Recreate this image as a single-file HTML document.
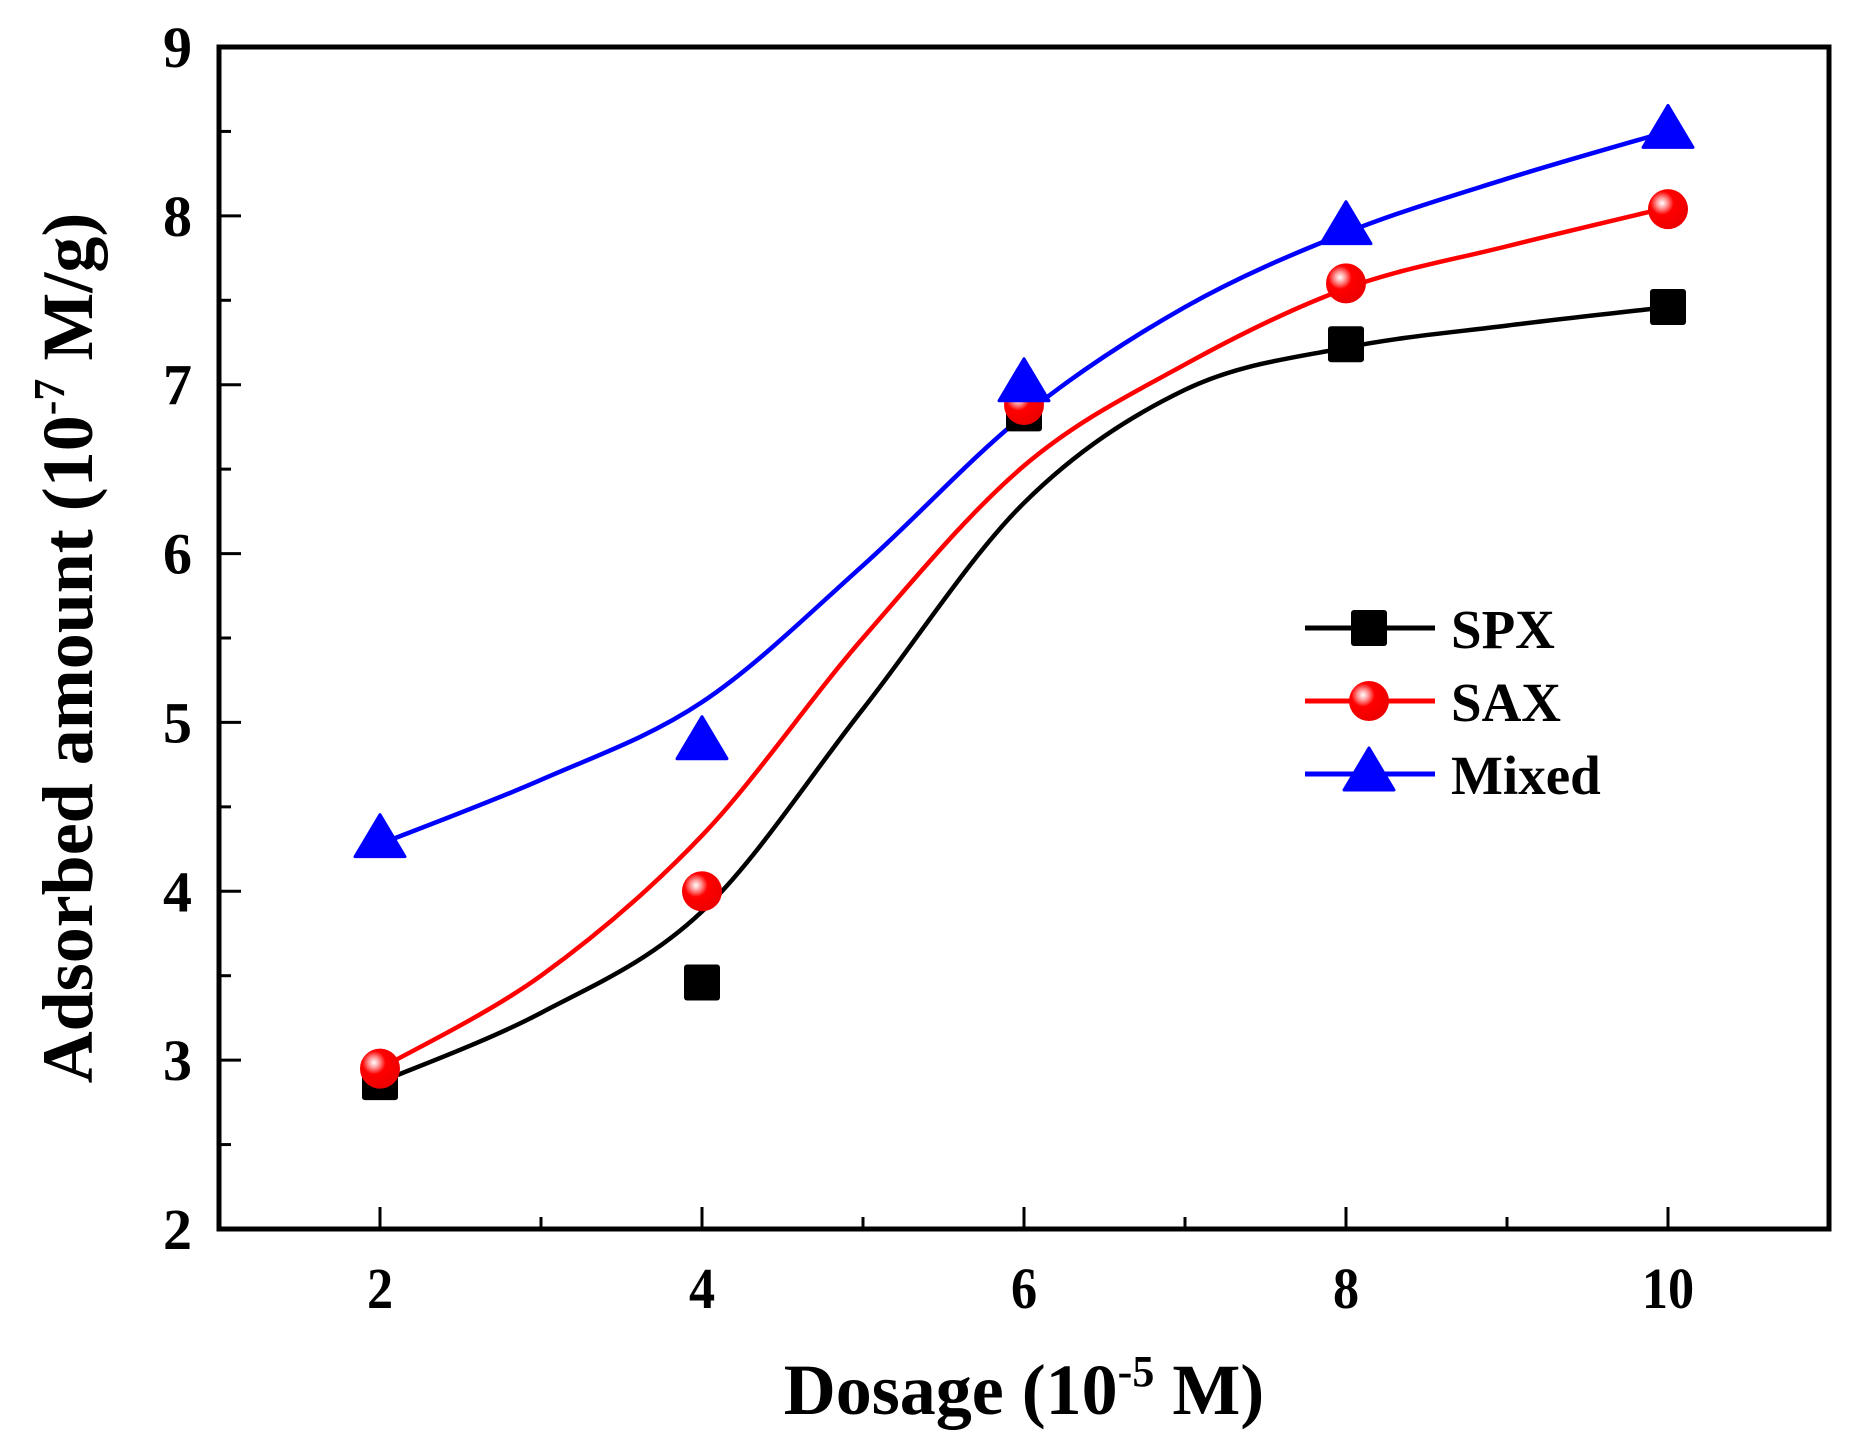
<!DOCTYPE html>
<html><head><meta charset="utf-8"><style>
html,body{margin:0;padding:0;background:#fff;}
svg{display:block;font-family:"Liberation Serif",serif;font-weight:bold;}
</style></head><body>
<svg id="chart" width="1853" height="1437" viewBox="0 0 1853 1437" xmlns="http://www.w3.org/2000/svg">
<g id="plot"></g>
</svg>
<script>
const categories = [2, 4, 6, 8, 10];
const spxValues = [2.87, 3.46, 6.83, 7.24, 7.46];
const saxValues = [2.95, 4.0, 6.88, 7.6, 8.04];
const mixedValues = [4.3, 4.88, 7.0, 7.93, 8.5];
const fitX = [2, 3, 4, 5, 6, 7, 8, 9, 10];
const spxFit = [2.87, 3.28, 3.88, 5.08, 6.3, 6.97, 7.22, 7.35, 7.46];
const saxFit = [2.95, 3.5, 4.33, 5.5, 6.52, 7.12, 7.57, 7.82, 8.05];
const mixedFit = [4.28, 4.66, 5.12, 5.93, 6.82, 7.46, 7.9, 8.22, 8.5];
const xTicks = [2, 4, 6, 8, 10];
const xMinor = [3, 5, 7, 9];
const yTicks = [2, 3, 4, 5, 6, 7, 8, 9];
const yMinor = [2.5, 3.5, 4.5, 5.5, 6.5, 7.5, 8.5];

const L = 219, R = 1829, T = 47, B = 1229;
const xMin = 1, xMax = 11, yMin = 2, yMax = 9;
function sx(v){ return L + (v - xMin) / (xMax - xMin) * (R - L); }
function sy(v){ return B - (v - yMin) / (yMax - yMin) * (B - T); }

const NS = "http://www.w3.org/2000/svg";
const g = document.getElementById('plot');
function mk(tag, attrs, parent){
  const e = document.createElementNS(NS, tag);
  for (const k in attrs) e.setAttribute(k, attrs[k]);
  (parent || g).appendChild(e);
  return e;
}

let fr = mk('rect', {x:L, y:T, width:R-L, height:B-T, fill:'none', stroke:'#000', 'stroke-width':5});



xTicks.forEach(v => {
  let t = mk('line', {x1:sx(v), x2:sx(v), y1:B, y2:B-22, stroke:'#000', 'stroke-width':3});
  
  
  let lb = mk('text', {x:sx(v), y:1308, 'text-anchor':'middle', 'font-size':58, transform:'translate('+sx(v)+',0) scale(0.9,1) translate('+(-sx(v))+',0)'});
  lb.textContent = v;
  
  
});
xMinor.forEach(v => {
  let t = mk('line', {x1:sx(v), x2:sx(v), y1:B, y2:B-12, stroke:'#000', 'stroke-width':3});
  
  
});
yTicks.forEach(v => {
  let t = mk('line', {x1:L, x2:L+22, y1:sy(v), y2:sy(v), stroke:'#000', 'stroke-width':3});
  
  
  let lb = mk('text', {x:192, y:sy(v)+20, 'text-anchor':'end', 'font-size':58});
  lb.textContent = v;
  
  
});
yMinor.forEach(v => {
  let t = mk('line', {x1:L, x2:L+12, y1:sy(v), y2:sy(v), stroke:'#000', 'stroke-width':3});
  
  
});

let xt = mk('text', {x:1024, y:1414, 'text-anchor':'middle', 'font-size':72});
xt.innerHTML = 'Dosage (10<tspan dy="-28" font-size="44">-5</tspan><tspan dy="28"> M)</tspan>';


let yt = mk('text', {x:0, y:0, 'text-anchor':'middle', 'font-size':72, transform:'translate(92,648) rotate(-90)'});
yt.innerHTML = 'Adsorbed amount (10<tspan dy="-28" font-size="44">-7</tspan><tspan dy="28"> M/g)</tspan>';



function curvePath(xs, ys){
  const pts = xs.map((x,i)=>[sx(x), sy(ys[i])]);
  let d = 'M' + pts[0][0] + ',' + pts[0][1];
  for (let i=0;i<pts.length-1;i++){
    const p0 = pts[Math.max(0,i-1)], p1 = pts[i], p2 = pts[i+1], p3 = pts[Math.min(pts.length-1,i+2)];
    const c1 = [p1[0]+(p2[0]-p0[0])/6, p1[1]+(p2[1]-p0[1])/6];
    const c2 = [p2[0]-(p3[0]-p1[0])/6, p2[1]-(p3[1]-p1[1])/6];
    d += ' C'+c1[0]+','+c1[1]+' '+c2[0]+','+c2[1]+' '+p2[0]+','+p2[1];
  }
  return d;
}

let defs = mk('defs', {}, document.getElementById('chart'));
let rg = mk('radialGradient', {id:'ballg', cx:'0.35', cy:'0.35', r:'0.65'}, defs);
mk('stop', {offset:'0', 'stop-color':'#fff'}, rg);
mk('stop', {offset:'0.2', 'stop-color':'#ff9a9a'}, rg);
mk('stop', {offset:'0.45', 'stop-color':'#ff0000'}, rg);
mk('stop', {offset:'1', 'stop-color':'#ee0000'}, rg);

function marker(type, cx, cy, color, name){
  let e;
  if (type === 'square') e = mk('rect', {x:cx-18, y:cy-18, width:36, height:36, rx:3, fill:color});
  else if (type === 'circle') e = mk('circle', {cx:cx, cy:cy, r:20, fill:'url(#ballg)'});
  else e = mk('polygon', {points:(cx)+','+(cy-26)+' '+(cx+25)+','+(cy+16)+' '+(cx-25)+','+(cy+16), fill:color, stroke:color, 'stroke-width':3, 'stroke-linejoin':'round'});
  
  
}

const series = [
  {name:'spx', vals:spxValues, fit:spxFit, color:'#000', m:'square'},
  {name:'sax', vals:saxValues, fit:saxFit, color:'#ff0000', m:'circle'},
  {name:'mixed', vals:mixedValues, fit:mixedFit, color:'#0000ff', m:'triangle'}
];
series.forEach(s => {
  let p = mk('path', {d:curvePath(fitX, s.fit), fill:'none', stroke:s.color, 'stroke-width':4.5});
  
  
});
series.forEach(s => {
  categories.forEach((c,i) => marker(s.m, sx(c), sy(s.vals[i]), s.color, s.name + '-point'));
});

const legendLabels = ['SPX', 'SAX', 'Mixed'];
const legendY = [628, 701, 774];
series.forEach((s,i) => {
  let ln = mk('line', {x1:1305, x2:1435, y1:legendY[i], y2:legendY[i], stroke:s.color, 'stroke-width':5});
  
  
  marker(s.m, 1369, legendY[i], s.color, 'legend-marker-' + s.name);
  let t = mk('text', {x:1451, y:legendY[i]+20, 'font-size':55});
  t.textContent = legendLabels[i];
  
  
});
</script>
</body></html>
